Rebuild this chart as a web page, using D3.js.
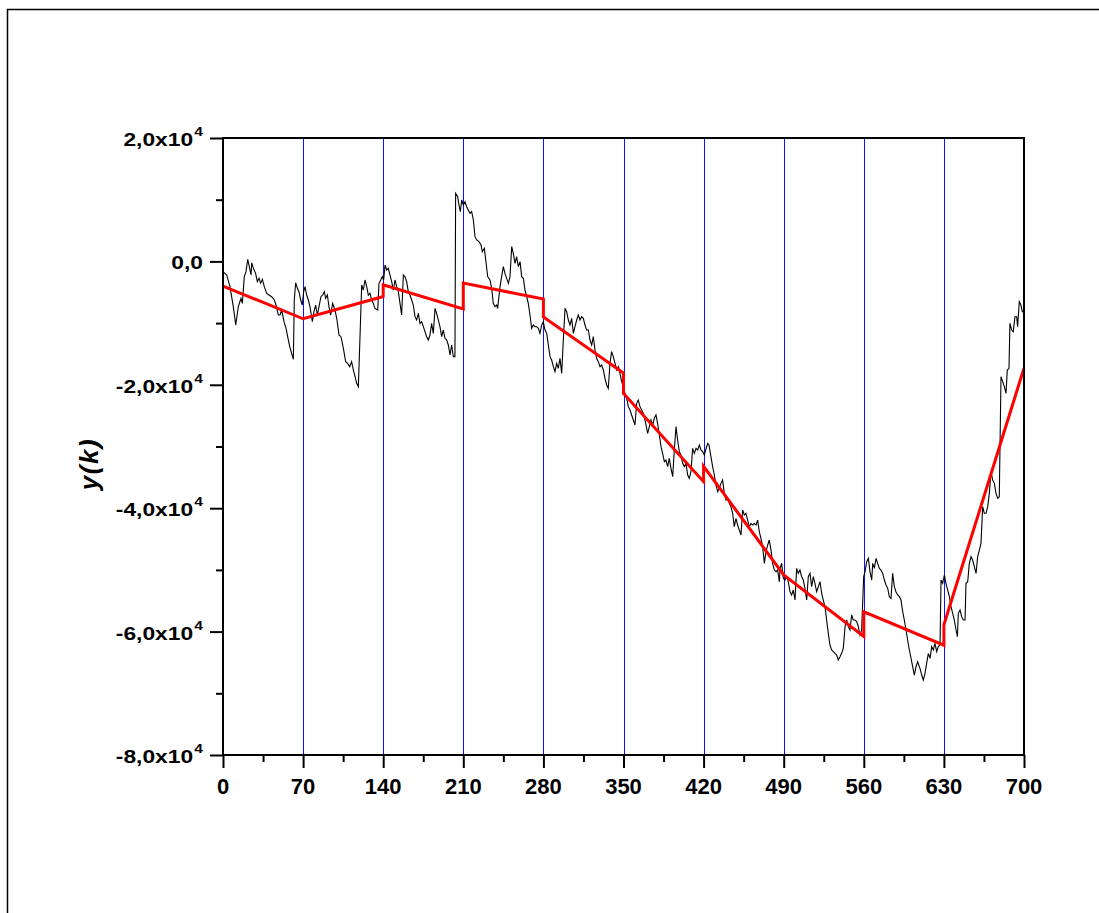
<!DOCTYPE html>
<html>
<head>
<meta charset="utf-8">
<script src="https://cdn.jsdelivr.net/npm/d3@7"></script>
<style>
  body { margin: 0; background: #fff; }
  svg { display: block; }
  text { font-family: "Liberation Sans", Arial, sans-serif; font-weight: bold; fill: #000; }
</style>
</head>
<body>
<svg id="chart" width="1099" height="913"></svg>
<script>
// x ticks / segment boundaries
const xMajor = [0, 70, 140, 210, 280, 350, 420, 490, 560, 630, 700];
const xMinor = [35, 105, 175, 245, 315, 385, 455, 525, 595, 665];
const segEdges = [70, 140, 210, 280, 350, 420, 490, 560, 630];

// y ticks
const yMajor = [20000, 0, -20000, -40000, -60000, -80000];
const yMinor = [10000, -10000, -30000, -50000, -70000];
const yLabelMain = ["2,0x10", "0,0", "-2,0x10", "-4,0x10", "-6,0x10", "-8,0x10"];
const yLabelExp = ["4", "", "4", "4", "4", "4"];

// black series y(k), values in thousands
const blackK = [
  0,3.2,6.1,9.0,11.1,13.4,15.7,16.9,18.6,20.1,21.6,23.0,24.5,25.1,26.5,28.5,30.0,31.5,32.9,34.4,
  36.1,38.2,40.2,42.5,44.9,46.3,48.4,49.8,51.3,53.3,55.1,56.5,58.3,60.0,61.5,62.3,63.5,65.0,66.4,67.9,
  69.3,70.5,71.7,73.1,74.6,76.0,78.1,79.5,81.0,82.4,83.9,85.6,87.1,88.6,89.7,91.2,92.6,94.1,95.8,97.9,
  99.6,101.4,103.1,105.2,107.2,108.9,110.7,112.4,113.9,115.4,116.8,118.3,
  121.2,122.6,124.1,125.6,127.0,128.5,129.9,131.4,132.8,135.2,136.3,137.8,139.2,140.4,141.6,143.0,144.5,145.9,147.4,148.9,
  150.3,151.8,153.2,154.7,156.1,157.6,159.0,160.5,161.9,163.4,164.9,166.3,167.8,169.2,170.7,172.1,173.6,175.1,176.5,178.0,
  179.4,180.9,182.3,183.8,185.3,186.7,188.2,189.6,191.1,192.5,194.0,195.5,196.9,198.4,199.8,201.3,202.7,203.3,205.1,206.2,
  207.4,208.6,210.0,211.5,212.9,214.4,215.9,217.3,218.8,220.2,221.7,223.7,225.5,226.6,228.4,229.6,231.3,233.3,234.8,236.2,
  237.7,239.1,240.0,
  242.1,243.5,245.0,246.4,247.9,249.4,250.8,252.3,253.7,255.2,256.6,258.1,259.6,261.0,262.5,263.9,265.4,266.8,268.3,269.7,
  271.2,272.7,274.1,275.6,277.0,278.5,279.9,281.4,282.9,284.3,285.8,287.2,288.7,290.1,291.6,293.0,294.5,296.0,297.4,298.9,
  300.3,301.8,303.2,304.7,306.2,307.6,309.1,310.5,312.0,313.4,314.9,316.3,317.8,319.3,320.7,322.2,323.6,325.1,326.5,328.0,
  329.5,330.9,332.4,333.8,335.3,336.7,338.2,339.6,341.1,342.6,344.0,345.5,346.9,348.4,349.8,351.3,352.8,354.2,355.7,357.1,
  358.6,360.0,361.5,362.9,
  364.4,367.3,369.4,371.1,372.6,374.0,375.5,376.9,378.4,379.8,381.3,382.8,384.2,385.7,387.1,388.6,390.0,391.5,393.0,394.4,
  395.9,397.3,398.8,400.2,401.7,403.2,404.6,406.1,407.5,409.0,410.4,411.9,413.4,414.8,416.3,417.7,419.2,420.6,421.8,423.6,
  424.7,426.4,427.9,429.4,430.8,432.3,433.7,435.2,436.6,438.1,439.6,441.0,442.5,443.9,445.4,446.8,448.3,449.7,451.2,452.7,
  454.1,455.6,457.0,458.5,459.9,461.4,462.9,464.3,465.8,467.2,468.7,470.1,471.6,473.1,474.5,476.0,477.4,478.9,480.3,481.8,
  483.3,484.7,486.2,
  486.8,488.2,489.7,491.1,492.6,494.0,495.5,496.9,498.4,499.9,501.3,502.8,504.2,505.7,507.1,508.6,510.1,511.5,513.0,514.4,
  515.9,517.3,518.8,520.3,521.7,523.2,524.6,526.1,527.5,529.0,530.4,531.9,533.4,534.8,536.3,537.7,539.2,540.6,542.1,543.6,
  545.0,546.5,547.9,549.4,550.8,552.3,553.8,555.2,556.7,558.1,559.9,561.1,562.5,564.0,565.4,566.9,567.8,569.2,570.7,572.1,
  573.6,575.0,576.5,578.0,579.4,580.9,582.3,583.8,585.2,586.7,588.1,589.6,591.1,592.5,594.0,595.4,596.9,598.3,599.8,601.3,
  602.7,604.2,605.6,607.1,608.5,
  609.1,610.6,612.0,613.5,614.9,616.4,617.9,619.3,620.8,622.2,623.7,625.1,626.6,627.5,628.9,630.4,631.8,633.3,634.8,636.2,
  637.7,639.1,640.6,641.8,642.6,644.1,645.5,647.0,648.5,649.3,650.8,652.2,653.7,655.1,656.6,658.1,659.5,661.0,662.4,663.9,
  665.3,666.8,668.3,669.7,671.2,672.6,674.1,675.5,677.0,678.4,679.9,681.4,682.8,684.3,685.4,686.9,687.7,689.2,690.6,692.1,
  693.6,694.4,695.9,697.3,698.5,700
];
const blackY = [
  -1.66,-2.20,-4.10,-7.34,-10.31,-7.34,-5.99,-6.80,-2.47,-1.66,0.33,-0.85,-2.20,-0.21,-1.12,-1.93,-3.28,-2.74,-3.55,-2.91,
  -4.10,-5.18,-5.45,-5.72,-6.26,-7.07,-8.69,-8.69,-7.88,-9.77,-10.85,-12.20,-13.82,-14.90,-15.87,-6.26,-3.45,-4.37,-4.91,-6.26,
  -7.07,-4.91,-4.10,-5.45,-6.26,-7.34,-9.77,-8.15,-7.07,-8.69,-7.34,-5.72,-5.45,-4.91,-5.99,-5.45,-7.34,-8.69,-6.80,-7.88,
  -9.50,-11.93,-12.20,-14.09,-16.25,-16.52,-17.06,-16.25,-17.60,-18.68,-19.76,-20.30,
  -3.82,-4.64,-3.01,-4.10,-5.45,-5.18,-6.26,-6.80,-7.61,-7.88,-3.55,-3.01,-2.47,-3.01,-0.58,-1.39,-1.12,-2.20,-3.28,-4.64,
  -3.01,-4.10,-4.91,-6.80,-8.69,-2.20,-2.47,-3.28,-4.91,-5.45,-6.26,-7.07,-8.96,-9.50,-8.42,-10.04,-9.77,-10.58,-11.39,-12.20,
  -12.74,-11.93,-10.04,-11.66,-7.61,-8.42,-9.50,-10.58,-12.20,-11.12,-12.47,-12.74,-13.55,-15.17,-13.55,-15.44,-15.44,11.03,10.49,9.14,
  8.06,9.95,9.14,9.68,8.87,8.33,7.79,8.06,6.71,4.01,3.47,3.20,2.66,1.58,2.12,0.23,-2.47,-3.01,-4.37,-6.80,
  -7.34,-7.07,-7.61,
  -4.10,-2.47,-0.85,-1.93,-2.74,-3.56,-2.47,2.39,1.31,-0.31,0.77,-0.85,-0.04,-2.47,-2.74,-4.64,-5.72,-6.80,-8.69,-10.85,
  -10.31,-10.58,-10.58,-10.85,-11.66,-10.31,-9.77,-11.12,-11.66,-13.55,-15.44,-15.98,-17.06,-17.87,-16.52,-17.33,-15.71,-18.14,-12.74,-7.61,
  -8.15,-9.50,-10.31,-9.23,-11.66,-10.58,-9.50,-8.69,-9.50,-8.96,-9.23,-10.31,-11.12,-11.12,-12.74,-13.55,-12.20,-14.36,-15.71,-16.25,
  -17.06,-16.79,-17.60,-18.95,-20.03,-20.57,-16.52,-14.63,-15.44,-16.52,-17.60,-17.06,-18.14,-19.49,-20.30,-21.38,-22.19,-23.54,-24.08,-24.89,
  -25.70,-26.51,-23.00,-22.46,
  -23.54,-24.62,-26.25,-27.86,-26.78,-25.70,-26.51,-25.43,-24.89,-26.25,-28.14,-30.03,-31.11,-32.46,-32.19,-33.27,-31.92,-33.54,-34.89,-30.57,
  -26.78,-28.95,-30.84,-31.38,-32.73,-33.27,-32.73,-34.62,-35.16,-34.08,-30.30,-31.11,-30.30,-30.57,-29.76,-30.57,-30.84,-31.38,-30.57,-29.49,
  -29.76,-31.65,-33.27,-34.62,-36.24,-37.33,-36.79,-35.97,-35.43,-37.60,-38.68,-38.41,-39.22,-39.76,-40.84,-43.00,-41.65,-42.73,-43.54,-44.35,
  -40.30,-41.11,-40.84,-41.92,-43.00,-42.46,-42.73,-42.46,-42.73,-41.92,-43.81,-44.89,-46.24,-48.94,-47.05,-45.97,-45.16,-46.78,-48.94,-50.02,
  -50.29,-50.02,-51.92,
  -49.75,-48.94,-51.37,-51.64,-51.10,-51.91,-53.53,-54.07,-53.26,-54.88,-49.75,-50.56,-50.02,-51.10,-51.64,-52.99,-54.88,-51.10,-50.56,-52.72,
  -51.10,-52.18,-53.53,-52.72,-51.91,-53.80,-54.88,-55.96,-58.12,-60.28,-62.17,-62.98,-63.25,-63.52,-63.79,-64.60,-64.06,-63.52,-62.71,-59.20,
  -58.12,-59.20,-59.74,-57.31,-58.12,-58.12,-58.39,-59.20,-60.55,-59.74,-51.10,-50.29,-48.67,-48.13,-50.29,-51.64,-48.94,-49.75,-48.13,-48.94,
  -49.75,-50.02,-50.56,-51.64,-52.45,-52.99,-54.34,-54.61,-50.56,-52.72,-53.53,-54.07,-54.34,-54.88,-56.77,-58.12,-59.74,-61.36,-62.98,-64.33,
  -65.69,-67.04,-65.69,-64.87,-65.69,
  -65.96,-67.04,-67.85,-66.77,-65.14,-63.52,-64.33,-62.44,-62.98,-61.90,-63.25,-62.44,-62.17,-51.64,-52.18,-50.83,-52.18,-53.26,-54.34,-55.96,
  -57.04,-58.12,-59.74,-60.82,-57.04,-56.50,-57.58,-58.12,-58.12,-52.18,-51.91,-48.94,-47.86,-48.40,-49.48,-50.56,-47.86,-46.78,-45.70,-39.75,
  -40.83,-40.83,-39.75,-37.59,-34.08,-35.43,-35.97,-37.59,-38.40,-38.13,-18.68,-19.49,-20.30,-21.38,-17.60,-17.33,-10.04,-11.12,-11.39,-8.96,
  -8.96,-10.58,-6.53,-7.07,-8.15,-8.15
];

// red piecewise fit (k, value); repeated k = jump at a boundary
const redK = [0, 70, 140, 140, 210, 210, 280, 280, 350, 350, 420, 420, 490, 560, 560, 630, 630, 700];
const redY = [-4000, -9300, -5700, -3800, -7700, -3500, -6100, -9000, -18100, -21400, -35700, -33200, -50800, -60800, -56800, -62200, -58900, -17300];

if (blackK.length !== blackY.length) throw new Error("black arrays differ: " + blackK.length + " vs " + blackY.length);

const svg = d3.select("#chart");
const plot = { left: 223, right: 1024, top: 138, bottom: 755 };

const x = d3.scaleLinear().domain([0, 700]).range([plot.left, plot.right]);
const y = d3.scaleLinear().domain([-80000, 20000]).range([plot.bottom, plot.top]);

// outer frame
svg.append("rect")
  .attr("x", 7.5).attr("y", 9.5)
  .attr("width", 1200).attr("height", 1000)
  .attr("fill", "none").attr("stroke", "#000").attr("stroke-width", 1.5);

// blue segment lines
svg.append("g").selectAll("line")
  .data(segEdges)
  .join("line")
    .attr("x1", d => Math.round(x(d)) + 0.5)
    .attr("x2", d => Math.round(x(d)) + 0.5)
    .attr("y1", y(20000))
    .attr("y2", y(-80000))
    .attr("stroke", "#1010ff")
    .attr("stroke-width", 1);

// black series
const blackData = blackK.map((k, i) => [k, blackY[i] * 1000]);
svg.append("path")
  .datum(blackData)
  .attr("fill", "none")
  .attr("stroke", "#000")
  .attr("stroke-width", 1.1)
  .attr("d", d3.line().x(d => x(d[0])).y(d => y(d[1])));

// red fit
const redData = redK.map((k, i) => [k, redY[i]]);
svg.append("path")
  .datum(redData)
  .attr("fill", "none")
  .attr("stroke", "#ff0000")
  .attr("stroke-width", 3)
  .attr("stroke-linejoin", "miter")
  .attr("d", d3.line().x(d => x(d[0])).y(d => y(d[1])));

// axes (ticks only, frame drawn separately)
function tickStyle(g) {
  g.select(".domain").remove();
  g.selectAll(".tick line").attr("stroke", "#000").attr("stroke-width", 2);
  g.selectAll(".tick text").remove();
}

svg.append("g")
  .attr("transform", `translate(${plot.left},0)`)
  .call(d3.axisLeft(y).tickValues(yMajor).tickSize(13).tickFormat(""))
  .call(tickStyle);
svg.append("g")
  .attr("transform", `translate(${plot.left},0)`)
  .call(d3.axisLeft(y).tickValues(yMinor).tickSize(7).tickFormat(""))
  .call(tickStyle);
svg.append("g")
  .attr("transform", `translate(0,${plot.bottom})`)
  .call(d3.axisBottom(x).tickValues(xMajor).tickSize(13).tickFormat(""))
  .call(tickStyle);
svg.append("g")
  .attr("transform", `translate(0,${plot.bottom})`)
  .call(d3.axisBottom(x).tickValues(xMinor).tickSize(7).tickFormat(""))
  .call(tickStyle);

svg.append("rect")
  .attr("x", plot.left).attr("y", plot.top)
  .attr("width", plot.right - plot.left).attr("height", plot.bottom - plot.top)
  .attr("fill", "none").attr("stroke", "#000").attr("stroke-width", 2);

// x tick labels
svg.append("g").selectAll("text")
  .data(xMajor)
  .join("text")
    .attr("x", d => x(d))
    .attr("y", 794)
    .attr("text-anchor", "middle")
    .attr("font-size", 22)
    .text(d => d);

// y tick labels with superscript exponent (glyphs drawn a little wider, as in the original)
const yl = svg.append("g").selectAll("text")
  .data(yMajor)
  .join("text")
    .attr("transform", d => `translate(203,${y(d) + 8}) scale(1.2,1)`)
    .attr("text-anchor", "end")
    .attr("font-size", 19);
yl.append("tspan").text((d, i) => yLabelMain[i]);
yl.append("tspan")
  .attr("font-size", 13)
  .attr("dx", 1)
  .attr("dy", -10)
  .text((d, i) => yLabelExp[i]);

// y axis title
svg.append("text")
  .attr("transform", "translate(98,464) rotate(-90)")
  .attr("text-anchor", "middle")
  .attr("font-size", 26)
  .attr("font-style", "italic")
  .attr("letter-spacing", 1.5)
  .text("y(k)");
</script>
</body>
</html>
